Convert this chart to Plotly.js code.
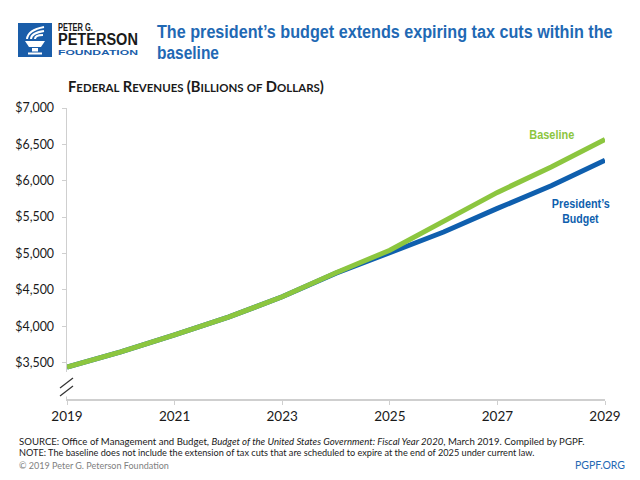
<!DOCTYPE html>
<html>
<head>
<meta charset="utf-8">
<script src="https://cdn.plot.ly/plotly-3.0.1.min.js"></script>
<style>html,body{margin:0;padding:0;background:#fff;}#chart{width:640px;height:480px;}</style>
</head>
<body>
<div id="chart"></div>
<script>
// ---- data ----
var years = [2019, 2020, 2021, 2022, 2023, 2024, 2025, 2026, 2027, 2028, 2029];
var baseline = [3440, 3647, 3880, 4125, 4405, 4735, 5045, 5445, 5840, 6190, 6568];
var presidentsBudget = [3440, 3647, 3880, 4125, 4405, 4730, 5010, 5295, 5620, 5930, 6282];
var yTickVals = [3500, 4000, 4500, 5000, 5500, 6000, 6500, 7000];
var yTickText = ["$3,500", "$4,000", "$4,500", "$5,000", "$5,500", "$6,000", "$6,500", "$7,000"];
var xTickVals = [2019, 2021, 2023, 2025, 2027, 2029];

// ---- layout helpers (pixel -> paper) ----
var W = 640, H = 480, mL = 67, mR = 35, mT = 108, mB = 81;
var pw = W - mL - mR, ph = H - mT - mB;
function px(x) { return (x - mL) / pw; }
function py(y) { return (H - mB - y) / ph; }
function path(pts) {
  return pts.map(function (p) { return px(p[0]).toFixed(5) + ',' + py(p[1]).toFixed(5); }).join(' ');
}

var FONT = 'Lato, "Open Sans", sans-serif';
var NARROW = '"Liberation Sans", Arial, sans-serif';
var GREEN = '#8cc63f', BLUE = '#0f5fae', TBLUE = '#1f69b4', LOGO = '#1a5da9';

var traces = [
  { x: years, y: presidentsBudget, type: 'scatter', mode: 'lines', name: "President's Budget",
    line: { color: BLUE, width: 5 }, hoverinfo: 'skip' },
  { x: years, y: baseline, type: 'scatter', mode: 'lines', name: 'Baseline',
    line: { color: GREEN, width: 5 }, hoverinfo: 'skip' }
];

function big(t) { return '<span style="font-size:14.5px">' + t + '</span>'; }
function sm(t) { return '<span style="font-size:11.3px">' + t + '</span>'; }
var subtitle = big('F') + sm('EDERAL') + ' ' + big('R') + sm('EVENUES') + ' ' + big('(B') + sm('ILLIONS') + ' ' +
  sm('OF') + ' ' + big('D') + sm('OLLARS') + big(')');

// fit: target width in px for condensed-looking text (applied after render)
var annotations = [], fitWidths = {};
function addAnn(a, fit) {
  if (fit) fitWidths[annotations.length] = fit;
  annotations.push(a);
}
function leftText(x, y, text, font, fit) {
  addAnn({ xref: 'paper', yref: 'paper', x: px(x), y: py(y), xanchor: 'left', yanchor: 'middle', align: 'left',
    showarrow: false, borderpad: 0, text: text, font: font }, fit);
}
leftText(156, 31, '<b>The president\u2019s budget extends expiring tax cuts within the</b>', { family: NARROW, size: 18.5, color: TBLUE }, 456);
leftText(156, 52, '<b>baseline</b>', { family: NARROW, size: 18.5, color: TBLUE }, 62);
leftText(67, 86, '<b>' + subtitle + '</b>', { family: FONT, size: 13, color: '#1a1a1a' }, 256);
// logo text
leftText(57, 26.5, '<b>PETER G.</b>', { family: NARROW, size: 10.5, color: '#1a1a1a' }, 35);
leftText(57, 40, '<b>PETERSON</b>', { family: NARROW, size: 17, color: '#1a1a1a' }, 80);
leftText(57, 52.5, '<b>FOUNDATION</b>', { family: NARROW, size: 7.5, color: LOGO }, 80);
// line labels (anchored near the lines, in data units)
addAnn({ xref: 'x', yref: 'y', x: 2028.0, y: 6630, xanchor: 'center', yanchor: 'middle', showarrow: false,
  text: '<b>Baseline</b>', font: { family: NARROW, size: 13, color: GREEN } }, 45);
addAnn({ xref: 'x', yref: 'y', x: 2028.55, y: 5690, xanchor: 'center', yanchor: 'middle', showarrow: false,
  text: '<b>President\u2019s</b>', font: { family: NARROW, size: 13, color: BLUE } }, 58);
addAnn({ xref: 'x', yref: 'y', x: 2028.55, y: 5480, xanchor: 'center', yanchor: 'middle', showarrow: false,
  text: '<b>Budget</b>', font: { family: NARROW, size: 13, color: BLUE } }, 37);
// footer
leftText(18, 441, 'SOURCE: Office of Management and Budget, <i>Budget of the United States Government: Fiscal Year 2020</i>, March 2019. Compiled by PGPF.',
  { family: FONT, size: 10, color: '#1a1a1a' }, 566);
leftText(18, 452, 'NOTE: The baseline does not include the extension of tax cuts that are scheduled to expire at the end of 2025 under current law.',
  { family: FONT, size: 10, color: '#1a1a1a' }, 516);
leftText(18, 465, '\u00a9 2019 Peter G. Peterson Foundation', { family: FONT, size: 10, color: '#808080' }, 150);
addAnn({ xref: 'paper', yref: 'paper', x: px(626), y: py(465), xanchor: 'right', yanchor: 'middle', showarrow: false,
  borderpad: 0, text: 'PGPF.ORG', font: { family: FONT, size: 10.5, color: TBLUE } });

var shapes = [
  // logo square
  { type: 'rect', xref: 'paper', yref: 'paper', x0: px(18), x1: px(52), y0: py(23), y1: py(57),
    fillcolor: LOGO, line: { width: 0 } },
  // torch flames
  { type: 'path', xref: 'paper', yref: 'paper', path: 'M' + path([[27, 39]]) + ' Q' + path([[28, 30], [44, 27]]),
    line: { color: '#fff', width: 2 } },
  { type: 'path', xref: 'paper', yref: 'paper', path: 'M' + path([[31, 39]]) + ' Q' + path([[31, 33], [44, 31]]),
    line: { color: '#fff', width: 2 } },
  { type: 'path', xref: 'paper', yref: 'paper', path: 'M' + path([[35, 39]]) + ' Q' + path([[35, 35], [43, 35]]),
    line: { color: '#fff', width: 2 } },
  // torch bowl
  { type: 'path', xref: 'paper', yref: 'paper',
    path: 'M' + path([[25, 41]]) + ' L' + path([[45, 41]]) + ' L' + path([[41, 47]]) + ' L' + path([[29, 47]]) + ' Z',
    fillcolor: '#fff', line: { width: 0 } },
  // torch stem + base
  { type: 'rect', xref: 'paper', yref: 'paper', x0: px(32), x1: px(38), y0: py(48), y1: py(51.5),
    fillcolor: '#fff', line: { width: 0 } },
  { type: 'rect', xref: 'paper', yref: 'paper', x0: px(28), x1: px(42), y0: py(52.5), y1: py(54.5),
    fillcolor: '#fff', line: { width: 0 } },
  // gap in the y axis line for the break
  { type: 'rect', xref: 'paper', yref: 'paper', x0: px(64), x1: px(70), y0: py(372), y1: py(396.5),
    fillcolor: '#fff', line: { width: 0 } },
  // axis break marks
  { type: 'line', xref: 'paper', yref: 'paper', x0: px(60), y0: py(388), x1: px(73), y1: py(378),
    line: { color: '#333', width: 1.2 } },
  { type: 'line', xref: 'paper', yref: 'paper', x0: px(60), y0: py(396), x1: px(73), y1: py(386),
    line: { color: '#333', width: 1.2 } }
];

var layout = {
  width: W, height: H,
  margin: { l: mL, r: mR, t: mT, b: mB, pad: 0 },
  paper_bgcolor: '#fff', plot_bgcolor: '#fff',
  showlegend: false,
  font: { family: FONT, color: '#222' },
  xaxis: {
    range: [2019, 2029], tickvals: xTickVals, ticktext: xTickVals.map(String),
    showgrid: false, zeroline: false, showline: true, linecolor: '#cfcfcf', linewidth: 1.5,
    ticks: 'outside', ticklen: 4, tickcolor: '#cfcfcf', tickwidth: 1,
    tickfont: { family: FONT, size: 13.5, color: '#1a1a1a' }, fixedrange: true
  },
  yaxis: {
    range: [3000, 7000], tickvals: yTickVals, ticktext: yTickText,
    showgrid: false, zeroline: false, showline: true, linecolor: '#cfcfcf', linewidth: 1.5,
    ticks: 'outside', ticklen: 4, tickcolor: '#cfcfcf', tickwidth: 1, ticklabelstandoff: 5,
    tickfont: { family: FONT, size: 12.4, color: '#1a1a1a' }, fixedrange: true
  },
  annotations: annotations,
  shapes: shapes
};

Plotly.newPlot('chart', traces, layout, { staticPlot: true, displayModeBar: false }).then(function (gd) {
  Object.keys(fitWidths).forEach(function (i) {
    var g = gd.querySelector('g.annotation[data-index="' + i + '"]');
    if (!g) return;
    var t = g.querySelector('text.annotation-text');
    if (!t) return;
    var natural = t.getBBox().width;
    if (!natural) return;
    var s = fitWidths[i] / natural;
    var x0 = parseFloat(t.getAttribute('x')) || 0;
    // horizontal condensing about the text's anchor point
    t.setAttribute('transform', 'translate(' + x0 + ',0) scale(' + s.toFixed(4) + ',1) translate(' + (-x0) + ',0)');
    var r = g.querySelector('rect.bg');
    if (r) {
      var rw = parseFloat(r.getAttribute('width')) || 0;
      var anchorMid = t.getAttribute('text-anchor') === 'middle';
      var rx = parseFloat(r.getAttribute('x')) || 0;
      var nw = rw * s;
      r.setAttribute('width', nw);
      if (anchorMid) r.setAttribute('x', rx + (rw - nw) / 2);
    }
  });
});
</script>
</body>
</html>
